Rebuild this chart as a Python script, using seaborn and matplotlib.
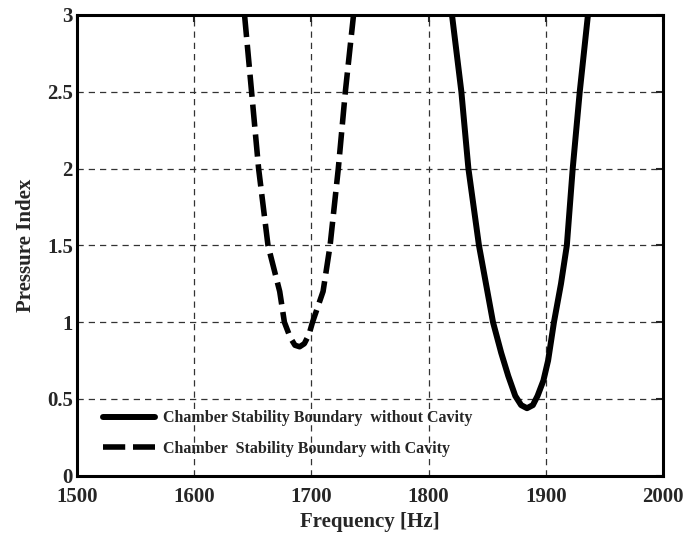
import numpy as np
import pandas as pd
import matplotlib
matplotlib.use("Agg")
import matplotlib.pyplot as plt
import seaborn as sns

# Courbe sans cavité (trait plein)
freq_no_cavity = [1820, 1828, 1834, 1843, 1849, 1855, 1862, 1868, 1874, 1879, 1884,
                  1889, 1893, 1898, 1902, 1907, 1913, 1918, 1923, 1929, 1936]
pi_no_cavity = [3.0, 2.5, 2.0, 1.5, 1.25, 1.0, 0.8, 0.65, 0.52, 0.46, 0.44,
                0.46, 0.52, 0.62, 0.75, 1.0, 1.25, 1.5, 2.0, 2.5, 3.0]

# Courbe avec cavité (tirets)
freq_cavity = [1643, 1649, 1655, 1663, 1673, 1677, 1682, 1686, 1690, 1694,
               1698, 1701, 1710, 1716, 1723, 1729, 1736]
pi_cavity = [3.0, 2.5, 2.0, 1.5, 1.2, 1.0, 0.9, 0.85, 0.84, 0.86,
             0.92, 1.0, 1.2, 1.5, 2.0, 2.5, 3.0]

x_ticks = [1500, 1600, 1700, 1800, 1900, 2000]
y_ticks = [0, 0.5, 1, 1.5, 2, 2.5, 3]
y_tick_labels = ["0", "0.5", "1", "1.5", "2", "2.5", "3"]

sns.set_style("white")
plt.rcParams['font.family'] = ['Liberation Serif', 'DejaVu Serif']
plt.rcParams['font.weight'] = 'bold'

fig = plt.figure(figsize=(6.87, 5.34), dpi=100)
ax = fig.add_axes([0.112, 0.109, 0.853, 0.863])

df1 = pd.DataFrame({"f": freq_no_cavity, "p": pi_no_cavity})
df2 = pd.DataFrame({"f": freq_cavity, "p": pi_cavity})

sns.lineplot(data=df1, x="f", y="p", ax=ax, sort=False, estimator=None,
             color="black", linewidth=4.3,
             label="Chamber Stability Boundary  without Cavity")
sns.lineplot(data=df2, x="f", y="p", ax=ax, sort=False, estimator=None,
             color="black", linewidth=4.0, dashes=False,
             label="Chamber  Stability Boundary with Cavity")
ax.lines[1].set_dashes((4, 1.4))

ax.set_xlim(1500, 2000)
ax.set_ylim(0, 3)
ax.set_xticks(x_ticks)
ax.set_yticks(y_ticks)
ax.set_yticklabels(y_tick_labels)
ax.grid(True, color="#333333", linestyle=(0, (5, 4)), linewidth=0.9)
ax.tick_params(direction="in", length=5, width=1.5, labelsize=15,
               top=True, right=True, pad=3)
ax.tick_params(axis="x", pad=8)
for s in ax.spines.values():
    s.set_linewidth(2.2)
    s.set_color("black")

ax.set_xlabel("Frequency [Hz]", fontsize=15, fontweight="bold", labelpad=4)
ax.set_ylabel("Pressure Index", fontsize=15, fontweight="bold", labelpad=8)

leg = ax.legend(loc="lower left", frameon=False, fontsize=11.5,
                handlelength=3.25, handletextpad=0.5, labelspacing=0.9,
                bbox_to_anchor=(0.02, 0.01))
for t in leg.get_texts():
    t.set_fontweight("bold")

fig.savefig("out.png", dpi=100)
